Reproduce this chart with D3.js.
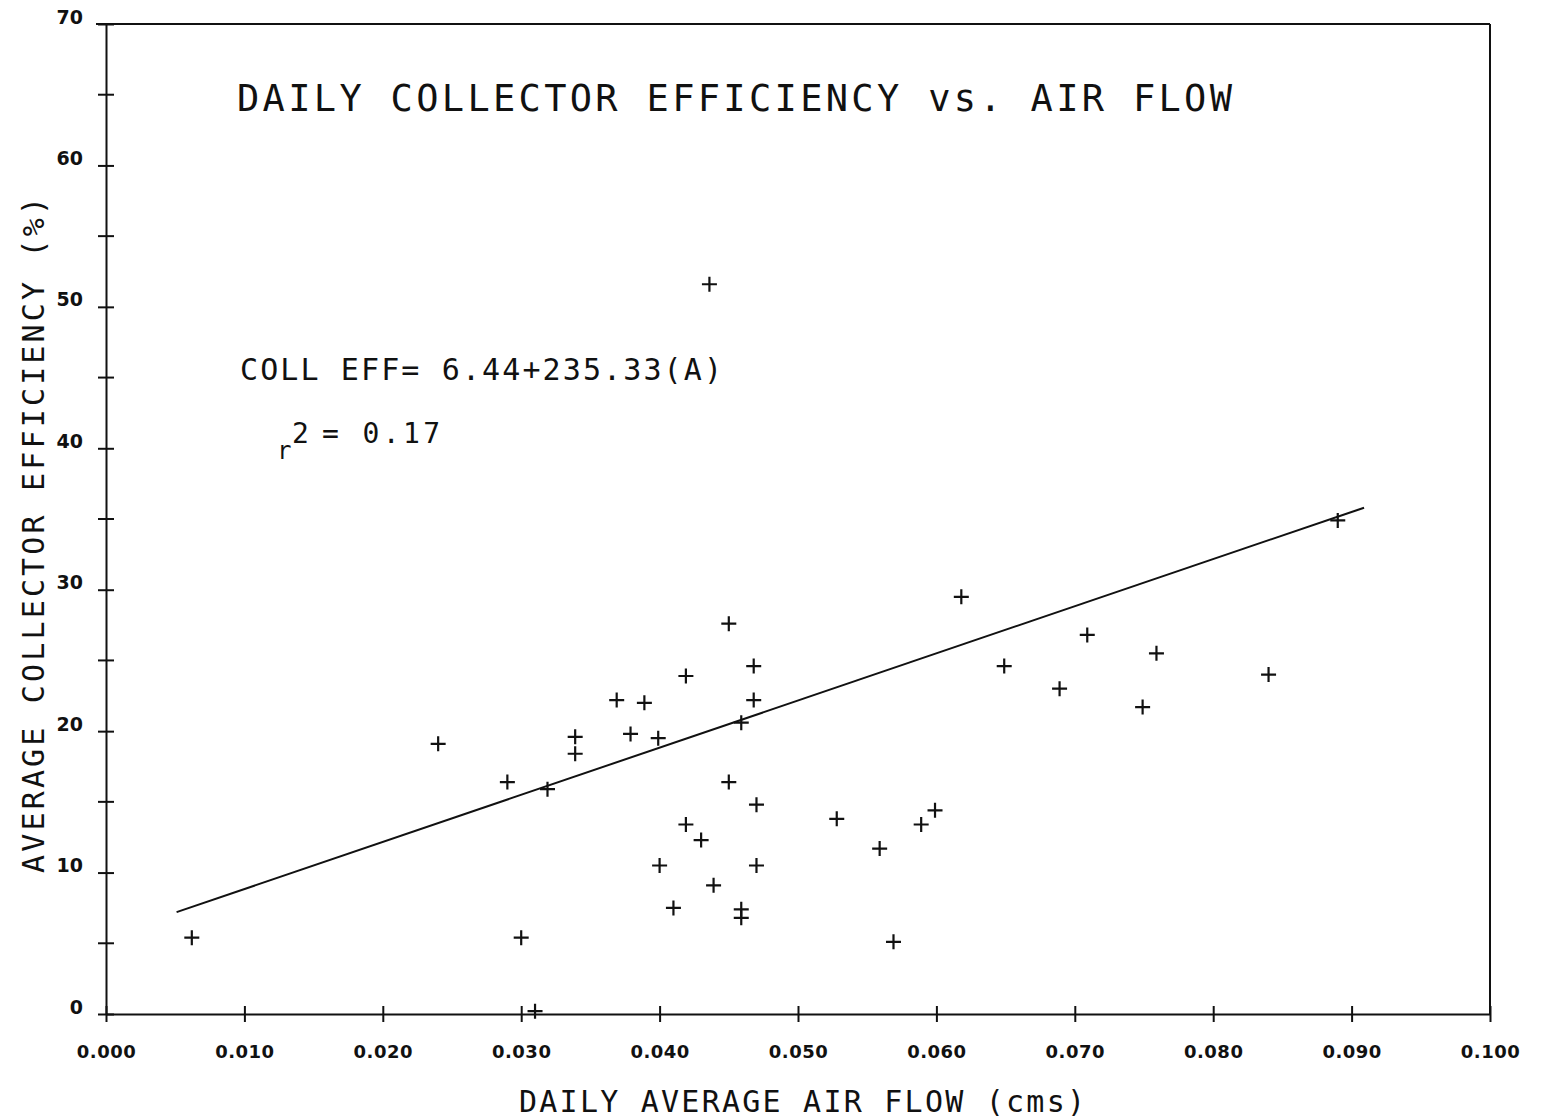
<!DOCTYPE html>
<html>
<head>
<meta charset="utf-8">
<script src="https://cdn.jsdelivr.net/npm/d3@7"></script>
<style>
  body { margin: 0; background: #fff; }
  text { fill: #111; }
</style>
</head>
<body>
<div id="chart"></div>
<script>
// daily average air flow (cms) and average collector efficiency (%)
const airFlow = [0.0062, 0.0240, 0.0290, 0.0319, 0.0300, 0.0310, 0.0339, 0.0339, 0.0369, 0.0389,
  0.0379, 0.0399, 0.0419, 0.0450, 0.0468, 0.0468, 0.0459, 0.0436, 0.0450, 0.0470,
  0.0419, 0.0430, 0.0400, 0.0470, 0.0439, 0.0410, 0.0459, 0.0459, 0.0528, 0.0559,
  0.0589, 0.0599, 0.0569, 0.0618, 0.0649, 0.0689, 0.0709, 0.0749, 0.0759, 0.0840, 0.0890];
const efficiency = [5.4, 19.1, 16.4, 15.9, 5.4, 0.2, 19.6, 18.4, 22.2, 22.0,
  19.8, 19.5, 23.9, 27.6, 24.6, 22.2, 20.6, 51.6, 16.4, 14.8,
  13.4, 12.3, 10.5, 10.5, 9.1, 7.5, 7.4, 6.8, 13.8, 11.7,
  13.4, 14.4, 5.1, 29.5, 24.6, 23.0, 26.8, 21.7, 25.5, 24.0, 34.9];

// regression line as drawn on the plot
const fitFlow = [0.0051, 0.0909];
const fitEff = [7.2, 35.8];

const xTicks = [0, 0.01, 0.02, 0.03, 0.04, 0.05, 0.06, 0.07, 0.08, 0.09, 0.1];
const yMajor = [0, 10, 20, 30, 40, 50, 60, 70];
const yMinor = [5, 15, 25, 35, 45, 55, 65];

const width = 1550, height = 1120;
const plot = { left: 106, right: 1490, top: 24, bottom: 1014 };

const svg = d3.select('#chart')
  .append('svg')
  .attr('width', width)
  .attr('height', height);

const x = d3.scaleLinear().domain([0, 0.1]).range([plot.left, plot.right]);
const y = d3.scaleLinear().domain([0, 70]).range([plot.bottom, plot.top]);

const ink = '#111';
const mono = "'DejaVu Sans Mono', monospace";

// frame: top and right lines
svg.append('line')
  .attr('x1', plot.left - 10).attr('x2', plot.right)
  .attr('y1', plot.top).attr('y2', plot.top)
  .attr('stroke', ink).attr('stroke-width', 2);
svg.append('line')
  .attr('x1', plot.right).attr('x2', plot.right)
  .attr('y1', plot.top).attr('y2', plot.bottom)
  .attr('stroke', ink).attr('stroke-width', 2);

// x axis
const xAxis = svg.append('g')
  .attr('transform', `translate(0, ${plot.bottom})`)
  .call(d3.axisBottom(x)
    .tickValues(xTicks)
    .tickFormat(d3.format('.3f'))
    .tickSizeOuter(0)
    .tickPadding(25));
xAxis.select('.domain').attr('stroke', ink).attr('stroke-width', 2);
xAxis.selectAll('.tick line').attr('y1', -8).attr('y2', 8).attr('stroke', ink).attr('stroke-width', 2);
xAxis.selectAll('.tick text')
  .attr('font-family', "'DejaVu Sans', sans-serif")
  .attr('font-weight', 'bold')
  .attr('font-size', '18px')
  .attr('letter-spacing', '0.5px')
  .attr('fill', ink);

// y axis, major ticks with labels
const yAxis = svg.append('g')
  .attr('transform', `translate(${plot.left}, 0)`)
  .call(d3.axisLeft(y)
    .tickValues(yMajor)
    .tickSizeOuter(0)
    .tickPadding(17));
yAxis.select('.domain').attr('stroke', ink).attr('stroke-width', 2);
yAxis.selectAll('.tick line').attr('x1', -8).attr('x2', 8).attr('stroke', ink).attr('stroke-width', 2);
yAxis.selectAll('.tick text')
  .attr('dy', '-0.05em')
  .attr('font-family', "'DejaVu Sans', sans-serif")
  .attr('font-weight', 'bold')
  .attr('font-size', '19px')
  .attr('fill', ink);

// minor ticks
svg.append('g')
  .selectAll('line')
  .data(yMinor)
  .enter()
  .append('line')
  .attr('x1', plot.left - 8).attr('x2', plot.left + 8)
  .attr('y1', d => y(d)).attr('y2', d => y(d))
  .attr('stroke', ink).attr('stroke-width', 2);

// regression line
svg.append('line')
  .attr('x1', x(fitFlow[0])).attr('y1', y(fitEff[0]))
  .attr('x2', x(fitFlow[1])).attr('y2', y(fitEff[1]))
  .attr('stroke', ink).attr('stroke-width', 2);

// data points as plus signs
const arm = 7.5;
svg.append('g')
  .selectAll('path')
  .data(airFlow)
  .enter()
  .append('path')
  .attr('d', (d, i) => {
    const px = x(d), py = y(efficiency[i]);
    return `M${px - arm},${py}H${px + arm}M${px},${py - arm}V${py + arm}`;
  })
  .attr('stroke', ink)
  .attr('stroke-width', 2.2)
  .attr('fill', 'none');

// title
svg.append('text')
  .attr('x', 237).attr('y', 111)
  .attr('font-family', mono)
  .attr('font-size', '37px')
  .attr('textLength', 995)
  .attr('lengthAdjust', 'spacing')
  .text('DAILY COLLECTOR EFFICIENCY vs. AIR FLOW');

// regression equation
svg.append('text')
  .attr('x', 240).attr('y', 380)
  .attr('font-family', mono)
  .attr('font-size', '30px')
  .attr('textLength', 482)
  .attr('lengthAdjust', 'spacing')
  .text('COLL EFF= 6.44+235.33(A)');

svg.append('text')
  .attr('x', 277).attr('y', 459)
  .attr('font-family', mono)
  .attr('font-size', '24px')
  .text('r');
svg.append('text')
  .attr('x', 292).attr('y', 443)
  .attr('font-family', mono)
  .attr('font-size', '28px')
  .text('2');
svg.append('text')
  .attr('x', 322).attr('y', 443)
  .attr('font-family', mono)
  .attr('font-size', '28px')
  .attr('textLength', 118)
  .attr('lengthAdjust', 'spacing')
  .text('= 0.17');

// axis titles
svg.append('text')
  .attr('x', 519).attr('y', 1112)
  .attr('font-family', mono)
  .attr('font-size', '30px')
  .attr('textLength', 566)
  .attr('lengthAdjust', 'spacing')
  .text('DAILY AVERAGE AIR FLOW (cms)');

svg.append('text')
  .attr('transform', 'translate(44, 873) rotate(-90)')
  .attr('font-family', mono)
  .attr('font-size', '30px')
  .attr('textLength', 676)
  .attr('lengthAdjust', 'spacing')
  .text('AVERAGE COLLECTOR EFFICIENCY (%)');
</script>
</body>
</html>
